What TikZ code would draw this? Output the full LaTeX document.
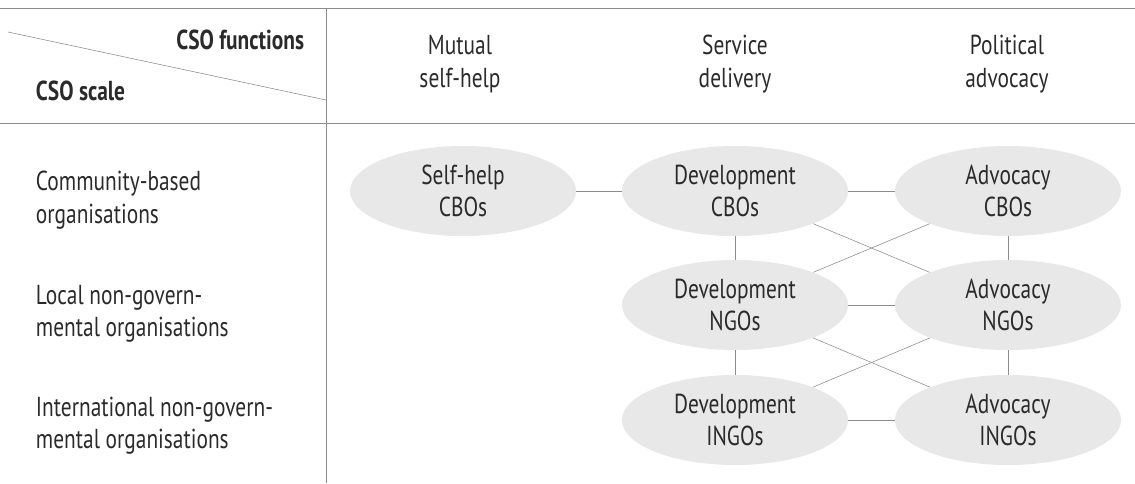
\documentclass[tikz,border=0pt]{standalone}
\usepackage{fontspec}
\setmainfont{PT Sans}[FakeStretch=0.78]
\usetikzlibrary{shapes.geometric}
\definecolor{ovalgrey}{HTML}{E8E8E8}
\definecolor{linegrey}{HTML}{8C8C8C}
\definecolor{textgrey}{HTML}{2A2A2A}
\begin{document}
\begin{tikzpicture}[x=0.025cm,y=-0.025cm,
    every node/.style={text=textgrey,font=\fontsize{19.5}{23}\selectfont},
    oval/.style={ellipse,fill=ovalgrey,minimum width=5.65cm,minimum height=2.25cm,align=center,inner sep=0pt},
    link/.style={draw=linegrey,thin},
    rule/.style={draw=linegrey,line width=0.6pt},
    rowlabel/.style={anchor=west,align=left},
    colhead/.style={align=center}]
    \useasboundingbox (0,0) rectangle (1135,483);

    % table lines
    \draw [rule] (0,8) -- (1135,8);
    \draw [rule] (0,123) -- (1135,123);
    \draw [rule] (326,8) -- (326,483);
    \draw [rule, thin] (8,32) -- (326,100);

    % corner
    \node [anchor=east,font=\fontsize{19.5}{23}\selectfont\bfseries] (fn) at (309,40) {CSO functions};
    \node [anchor=west,font=\fontsize{19.5}{23}\selectfont\bfseries] (sc) at (31,91) {CSO scale};

    % column heads
    \node [colhead] (mutual) at (460,64) {Mutual\\self-help};
    \node [colhead] (service) at (735,64) {Service\\delivery};
    \node [colhead] (political) at (1007,64) {Political\\advocacy};

    % row labels
    \node [rowlabel] (cbo) at (31,200) {Community-based\\organisations};
    \node [rowlabel] (ngo) at (31,314) {Local non-govern-\\mental organisations};
    \node [rowlabel] (ingo) at (31,426) {International non-govern-\\mental organisations};

    % ovals
    \node [oval] (selfcbo) at (463,191) {Self-help\\CBOs};
    \node [oval] (devcbo) at (735,191) {Development\\CBOs};
    \node [oval] (advcbo) at (1008,191) {Advocacy\\CBOs};
    \node [oval] (devngo) at (735,305) {Development\\NGOs};
    \node [oval] (advngo) at (1008,305) {Advocacy\\NGOs};
    \node [oval] (devingo) at (735,420) {Development\\INGOs};
    \node [oval] (advingo) at (1008,420) {Advocacy\\INGOs};

    % -
    \draw [link] (selfcbo) -- (devcbo);
    \draw [link] (devcbo) -- (advcbo);
    \draw [link] (devngo) -- (advngo);
    \draw [link] (devingo) -- (advingo);
    % |
    \draw [link] (devcbo) -- (devngo);
    \draw [link] (devngo) -- (devingo);
    \draw [link] (advcbo) -- (advngo);
    \draw [link] (advngo) -- (advingo);
    % x
    \draw [link] (devcbo) -- (advngo);
    \draw [link] (advcbo) -- (devngo);
    \draw [link] (devngo) -- (advingo);
    \draw [link] (advngo) -- (devingo);
\end{tikzpicture}
\end{document}
